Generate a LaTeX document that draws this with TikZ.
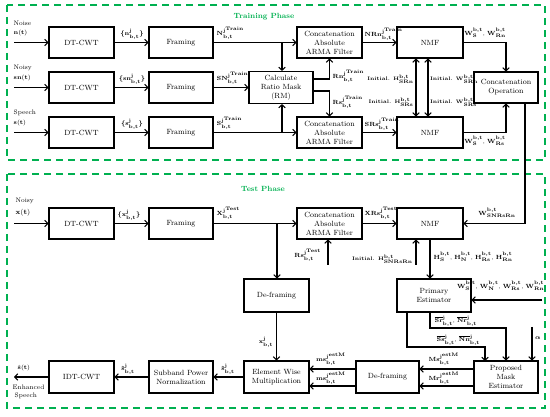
\documentclass[tikz,border=0pt]{standalone}
\usepackage{amsmath}
\usetikzlibrary{arrows.meta,calc}
\definecolor{phasegreen}{RGB}{0,176,80}
\begin{document}
\begin{tikzpicture}[x=1pt,y=-1pt,
 blk/.style={draw,line width=1.1pt,minimum width=65pt,minimum height=31pt,align=center,font=\fontsize{7.5}{9}\selectfont,inner sep=1pt},
 ln/.style={line width=1.1pt},
 arr/.style={ln,-{Straight Barb[length=3pt,width=6.5pt,line width=1.1pt]}},
 dbl/.style={ln,{Straight Barb[length=3pt,width=6.5pt,line width=1.1pt]}-{Straight Barb[length=3pt,width=6.5pt,line width=1.1pt]}},
 lbl/.style={font=\fontsize{5.6}{6}\selectfont\boldmath,inner sep=0.5pt},
 lbli/.style={font=\fontsize{5.1}{6}\selectfont\boldmath,inner sep=0.3pt},
 txt/.style={font=\fontsize{6.5}{7.5}\selectfont,inner sep=0.5pt,anchor=west},
 phasebox/.style={draw=phasegreen,line width=1.8pt,dash pattern=on 7pt off 5pt},
 phasetitle/.style={text=phasegreen,font=\bfseries\fontsize{7.5}{8}\selectfont},
]
\useasboundingbox (0,0) rectangle (550,417);
% phase frames
\draw[phasebox] (7,5) rectangle (545,160);
\draw[phasebox] (7,174) rectangle (545,408);
\node[phasetitle] (tp) at (264,17) {Training Phase};
\node[phasetitle] (ts) at (263,189) {Test Phase};

% ---------- Training blocks
\node[blk] (dt1) at (81.5,42.5) {DT-CWT};
\node[blk,minimum width=64pt] (fr1) at (181,42.5) {Framing};
\node[blk] (dt2) at (81.5,87.5) {DT-CWT};
\node[blk,minimum width=64pt] (fr2) at (181,87.5) {Framing};
\node[blk] (dt3) at (81.5,132.5) {DT-CWT};
\node[blk,minimum width=64pt] (fr3) at (181,132.5) {Framing};
\node[blk,minimum width=64pt,minimum height=32pt] (rm) at (281,87.5) {Calculate\\Ratio Mask\\(RM)};
\node[blk] (ca1) at (329.5,42.5) {Concatenation\\Absolute\\ARMA Filter};
\node[blk] (ca2) at (329.5,132.5) {Concatenation\\Absolute\\ARMA Filter};
\node[blk,minimum width=66pt] (nmf1) at (430,42.5) {NMF};
\node[blk,minimum width=66pt] (nmf2) at (430,132.5) {NMF};
\node[blk,minimum width=64pt] (cop) at (506,87.5) {Concatenation\\Operation};

% inputs
\node[txt] (l1a) at (13,23) {Noise};
\node[txt] (l1b) at (13,33) {$\mathbf{n(t)}$};
\node[txt] (l2a) at (13,68) {Noisy};
\node[txt] (l2b) at (13,78) {$\mathbf{sn(t)}$};
\node[txt] (l3a) at (13,113) {Speech};
\node[txt] (l3b) at (13,123) {$\mathbf{s(t)}$};
\coordinate (in1) at (14,42.5);
\coordinate (in2) at (14,87.5);
\coordinate (in3) at (14,132.5);
\draw[arr] (in1) -- (dt1);
\draw[arr] (in2) -- (dt2);
\draw[arr] (in3) -- (dt3);
\draw[arr] (dt1) -- (fr1);
\draw[arr] (dt2) -- (fr2);
\draw[arr] (dt3) -- (fr3);
\node[lbl] (x1) at (132,34) {$\{\mathbf{n}^{\mathbf{j}}_{\mathbf{b,t}}\}$};
\node[lbl] (x2) at (132,79) {$\{\mathbf{sn}^{\mathbf{j}}_{\mathbf{b,t}}\}$};
\node[lbl] (x3) at (132,124) {$\{\mathbf{s}^{\mathbf{j}}_{\mathbf{b,t}}\}$};

\coordinate (b1) at (282,42.5);
\coordinate (b3) at (282,132.5);
\draw[arr] (fr1) -- (ca1);
\draw[arr] (b1) -- (b1 |- rm.north);
\draw[arr] (fr2) -- (rm);
\draw[arr] (fr3) -- (ca2);
\draw[arr] (b3) -- (b3 |- rm.south);
\node[lbl,anchor=west] (y1) at (216,33) {$\mathbf{N}^{\mathbf{j}^{\mathrm{Train}}}_{\mathbf{b,t}}$};
\node[lbl,anchor=west] (y2) at (216,78) {$\mathbf{SN}^{\mathbf{j}^{\mathrm{Train}}}_{\mathbf{b,t}}$};
\node[lbl,anchor=west] (y3) at (216,123) {$\mathbf{S}^{\mathbf{j}^{\mathrm{Train}}}_{\mathbf{b,t}}$};

\coordinate (rmo1) at (313,79);
\coordinate (rmo2) at (313,91);
\draw[arr] (rmo1) -| (ca1.south);
\draw[arr] (rmo2) -| (ca2.north);
\node[lbl,anchor=west] (rn) at (332,76) {$\mathbf{Rn}^{\mathbf{j}^{\mathrm{Train}}}_{\mathbf{b,t}}$};
\node[lbl,anchor=west] (rs) at (332,102) {$\mathbf{Rs}^{\mathbf{j}^{\mathrm{Train}}}_{\mathbf{b,t}}$};

\draw[arr] (ca1) -- (nmf1);
\draw[arr] (ca2) -- (nmf2);
\node[lbl,anchor=west] (z1) at (364,34) {$\mathbf{NRn}^{\mathbf{j}^{\mathrm{Train}}}_{\mathbf{b,t}}$};
\node[lbl,anchor=west] (z2) at (364,124) {$\mathbf{SRs}^{\mathbf{j}^{\mathrm{Train}}}_{\mathbf{b,t}}$};

\draw[dbl] ($(nmf1.south)+(-14,0)$) -- ($(nmf2.north)+(-14,0)$);
\draw[dbl] ($(nmf1.south)+(-2,0)$) -- ($(nmf2.north)+(-2,0)$);
\node[lbli,anchor=east] (ih1) at (414,79) {\textbf{Initial.} $\mathbf{H}^{\mathbf{b,t}}_{\mathbf{SRn}}$};
\node[lbli,anchor=west] (iw1) at (429.5,79) {\textbf{Initial.} $\mathbf{W}^{\mathbf{b,t}}_{\mathbf{SRn}}$};
\node[lbli,anchor=east] (ih2) at (414,102) {\textbf{Initial.} $\mathbf{H}^{\mathbf{b,t}}_{\mathbf{SRs}}$};
\node[lbli,anchor=west] (iw2) at (429.5,102) {\textbf{Initial.} $\mathbf{W}^{\mathbf{b,t}}_{\mathbf{SRs}}$};

\draw[arr] (nmf1) -| (cop.north);
\draw[arr] (nmf2) -| (cop.south);
\node[lbl] (w1) at (485,33) {$\mathbf{W}^{\mathbf{b,t}}_{\mathbf{S}}$, $\mathbf{W}^{\mathbf{b,t}}_{\mathbf{Rn}}$};
\node[lbl] (w2) at (485,141) {$\mathbf{W}^{\mathbf{b,t}}_{\mathbf{S}}$, $\mathbf{W}^{\mathbf{b,t}}_{\mathbf{Rs}}$};

% ---------- Test blocks
\node[blk] (dt4) at (81.5,223.5) {DT-CWT};
\node[blk,minimum width=64pt] (fr4) at (181,223.5) {Framing};
\node[blk] (ca3) at (329.5,223.5) {Concatenation\\Absolute\\ARMA Filter};
\node[blk,minimum width=66pt] (nmf3) at (430,223.5) {NMF};
\node[blk,minimum height=33pt] (df1) at (276.5,295.5) {De-framing};
\node[blk,minimum width=74pt,minimum height=33pt] (pe) at (434,295.5) {Primary\\Estimator};
\node[blk,minimum width=64pt,minimum height=32pt] (pme) at (506,377) {Proposed\\Mask\\Estimator};
\node[blk,minimum width=63pt,minimum height=32pt] (df2) at (387.5,377) {De-framing};
\node[blk,minimum height=32pt] (ewm) at (276.5,377) {Element Wise\\Multiplication};
\node[blk,minimum width=64pt,minimum height=32pt] (sub) at (181,377) {Subband Power\\Normalization};
\node[blk,minimum height=32pt] (idt) at (81.5,377) {IDT-CWT};

\node[txt] (l4a) at (15,201) {Noisy};
\node[txt,font=\fontsize{7.5}{8}\selectfont] (l4b) at (15,213) {$\mathbf{x(t)}$};
\coordinate (in4) at (14,223.5);
\draw[arr] (in4) -- (dt4);
\draw[arr] (dt4) -- (fr4);
\node[lbl] (x4) at (129,215) {$\{\mathbf{x}^{\mathbf{j}}_{\mathbf{b,t}}\}$};
\draw[arr] (fr4) -- (ca3);
\node[lbl,anchor=west] (y4) at (216,213) {$\mathbf{X}^{\mathbf{j}^{\mathrm{Test}}}_{\mathbf{b,t}}$};
\coordinate (b4) at (277,223.5);
\draw[arr] (b4) -- (b4 |- df1.north);
\draw[arr] (ca3) -- (nmf3);
\node[lbl,anchor=west] (z3) at (364,213) {$\mathbf{XRs}^{\mathbf{j}^{\mathrm{Test}}}_{\mathbf{b,t}}$};
\coordinate (rst) at (328,265);
\draw[arr] (rst) -- (rst |- ca3.south);
\node[lbl,anchor=east] (rs2) at (322,255) {$\mathbf{Rs}^{\mathbf{j}^{\mathrm{Test}}}_{\mathbf{b,t}}$};
\coordinate (hin) at (416,265);
\draw[arr] (hin) -- (hin |- nmf3.south);
\node[lbli,anchor=east] (ih3) at (413,259) {\textbf{Initial.} $\mathbf{H}^{\mathbf{b,t}}_{\mathbf{SNRsRn}}$};
\coordinate (cw) at (525,103);
\draw[arr] (cop.south -| cw) |- (nmf3.east);
\node[lbl] (w3) at (497,213) {$\mathbf{W}^{\mathbf{b,t}}_{\mathbf{SNRsRn}}$};
\draw[arr] (nmf3.south) -- (nmf3.south |- pe.north);
\node[lbl,anchor=west] (hh) at (433,257) {$\mathbf{H}^{\mathbf{b,t}}_{\mathbf{S}}$, $\mathbf{H}^{\mathbf{b,t}}_{\mathbf{N}}$, $\mathbf{H}^{\mathbf{b,t}}_{\mathbf{Rs}}$, $\mathbf{H}^{\mathbf{b,t}}_{\mathbf{Rn}}$};
\coordinate (win) at (542,300);
\draw[arr] (win) -- (win -| pe.east);
\node[lbl,anchor=east] (ww) at (545,286) {$\mathbf{W}^{\mathbf{b,t}}_{\mathbf{S}}$, $\mathbf{W}^{\mathbf{b,t}}_{\mathbf{N}}$, $\mathbf{W}^{\mathbf{b,t}}_{\mathbf{Rs}}$, $\mathbf{W}^{\mathbf{b,t}}_{\mathbf{Rn}}$};

\coordinate (c1) at (430,328);
\draw[arr] (nmf3.south |- pe.south) -- (c1) -| (pme.north);
\coordinate (c2a) at (407,312);
\coordinate (c2) at (407,347);
\coordinate (c3) at (485,361);
\draw[arr] (c2a) -- (c2) -| (c3);
\node[lbl,anchor=west] (srn) at (434,321) {$\overline{\mathbf{Sr}}{}^{\mathbf{j}}_{\mathbf{b,t}}$, $\overline{\mathbf{Nr}}{}^{\mathbf{j}}_{\mathbf{b,t}}$};
\node[lbl,anchor=west] (ssn) at (436,340) {$\overline{\mathbf{Ss}}{}^{\mathbf{j}}_{\mathbf{b,t}}$, $\overline{\mathbf{Nn}}{}^{\mathbf{j}}_{\mathbf{b,t}}$};
\coordinate (al) at (532,327);
\draw[arr] (al) -- (al |- pme.north);
\node[lbl] (alpha) at (538,338) {$\alpha$};

\coordinate (m1) at (474,369);
\coordinate (m2) at (474,386);
\draw[arr] (m1) -- (m1 -| df2.east);
\draw[arr] (m2) -- (m2 -| df2.east);
\node[lbl] (ms) at (444,359) {$\mathbf{Ms}^{\mathbf{j}^{\mathrm{estM}}}_{\mathbf{b,t}}$};
\node[lbl] (mr) at (444,378) {$\mathbf{Mr}^{\mathbf{j}^{\mathrm{estM}}}_{\mathbf{b,t}}$};
\coordinate (d1) at (356,369);
\coordinate (d2) at (356,386);
\draw[arr] (d1) -- (d1 -| ewm.east);
\draw[arr] (d2) -- (d2 -| ewm.east);
\node[lbl] (ms1) at (331,359) {$\mathbf{ms}^{\mathbf{j}^{\mathrm{estM}}}_{\mathbf{b,t}}$};
\node[lbl] (ms2) at (331,378) {$\mathbf{ms}^{\mathbf{j}^{\mathrm{estM}}}_{\mathbf{b,t}}$};

\draw[arr] (df1) -- (ewm);
\node[lbl] (xj) at (266,342) {$\mathbf{x}^{\mathbf{j}}_{\mathbf{b,t}}$};
\draw[arr] (ewm) -- (sub);
\node[lbl] (sh1) at (228,369) {$\hat{\mathbf{s}}^{\mathbf{j}}_{\mathbf{b,t}}$};
\draw[arr] (sub) -- (idt);
\node[lbl] (sh2) at (128,369) {$\hat{\mathbf{s}}^{\mathbf{j}}_{\mathbf{b,t}}$};
\coordinate (out) at (14,377);
\draw[arr] (idt) -- (out);
\node[txt] (o1) at (17,368) {$\hat{\mathbf{s}}\mathbf{(t)}$};
\node[txt] (o2) at (12,387) {Enhanced};
\node[txt] (o3) at (14,396) {Speech};
\end{tikzpicture}
\end{document}
